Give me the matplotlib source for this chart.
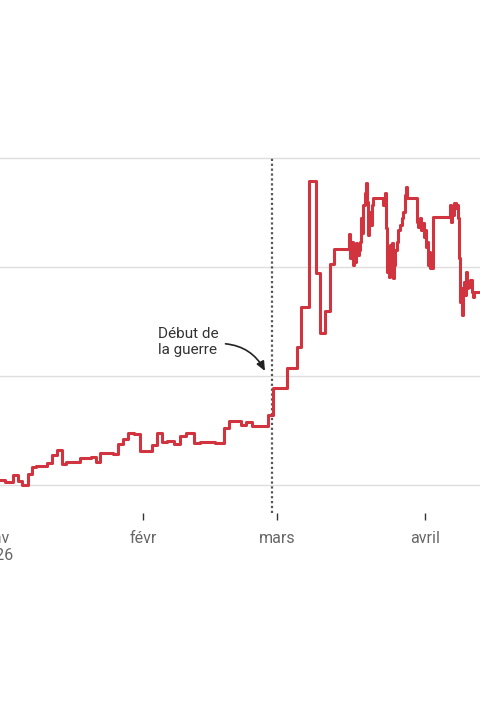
import matplotlib
matplotlib.use("Agg")
import matplotlib.pyplot as plt
import pandas as pd

plt.rcParams["font.family"] = ["Roboto", "DejaVu Sans"]

ORIGINE = pd.Timestamp("2026-01-01")

# cours : jours depuis le 1er janvier 2026, prix
jours_avant = [-1.11, 2.03, 3.71, 4.75, 5.59, 6.85, 7.69, 8.52, 10.83, 11.87,
               12.92, 13.97, 14.81, 17.74, 20.04, 21.09, 21.93, 24.65, 25.70, 26.74,
               27.79, 29.05, 30.30, 32.82, 33.86, 34.91, 35.96, 37.42, 38.68, 39.94,
               41.61, 42.87, 46.01, 47.90, 48.94, 51.46, 52.51, 53.76, 57.11]
prix_avant = [60.92, 60.61, 61.83, 60.79, 60.0, 62.02, 63.30, 63.49, 64.04, 65.50,
              66.42, 63.85, 64.22, 64.95, 65.14, 64.22, 65.87, 65.69, 67.52, 68.44,
              69.54, 69.36, 66.24, 67.34, 69.54, 67.89, 68.07, 67.52, 68.99, 69.54,
              67.71, 67.89, 67.71, 70.46, 71.74, 71.01, 71.56, 70.83, 72.84]

jours_choc = [58.16, 61.09, 63.19, 64.02, 65.69, 67.16, 68.00, 69.05, 70.09, 70.93]
prix_choc = [77.80, 81.47, 85.32, 92.66, 115.78, 98.90, 87.89, 91.93, 100.55, 103.30]

jours_intraday = [74.07, 74.28, 74.70, 74.91, 75.12, 75.33, 75.54, 75.75, 76.10, 76.38,
                  76.59, 76.80, 77.01, 77.36, 77.57, 77.78, 78.05, 78.32, 78.53, 78.83,
                  79.04, 81.26, 81.61, 81.82, 82.03, 82.24, 82.45, 82.66, 82.87, 83.08,
                  83.29, 83.50, 83.71, 84.07, 84.40, 84.76, 85.12, 85.45, 85.80, 86.01,
                  86.22, 88.25, 88.59, 88.94, 89.15, 89.42, 89.72, 89.99, 90.20, 90.41,
                  90.62, 90.83, 91.04, 91.25, 91.39, 91.60, 95.23, 95.43, 95.71, 95.92,
                  96.13, 96.42, 96.63, 96.84, 97.11, 97.32, 97.53, 97.74, 97.95, 98.16,
                  98.37, 98.64, 98.85, 99.06, 99.27, 99.48, 99.77, 99.98, 100.19, 102.0]
prix_intraday = [106.1, 101.7, 104.6, 100.4, 103.7, 100.9, 104.4, 102.2, 103.1, 104.6,
                 109.0, 106.2, 111.4, 113.6, 115.4, 111.9, 105.9, 110.1, 107.7, 111.4,
                 112.7, 111.4, 113.6, 107.2, 99.1, 102.8, 98.2, 104.0, 100.9, 104.4,
                 98.0, 100.4, 103.1, 104.6, 106.8, 107.7, 109.0, 110.1, 113.2, 114.7,
                 112.7, 108.3, 107.3, 109.0, 106.8, 108.1, 105.5, 106.8, 103.7, 104.6,
                 100.4, 102.8, 99.8, 101.7, 99.8, 109.2, 111.4, 108.3, 111.0, 109.5,
                 111.7, 110.8, 111.4, 109.0, 101.7, 93.6, 96.1, 91.2, 94.9, 97.2,
                 94.9, 99.1, 96.1, 97.2, 96.3, 97.6, 95.4, 94.5, 95.4, 95.4]

niveaux_grille = [60, 80, 100, 120]
mois_ticks = ["2026-01-01", "2026-02-01", "2026-03-01", "2026-04-01"]
mois_labels = ["janv\n2026", "févr", "mars", "avril"]
debut_guerre = pd.Timestamp("2026-02-28")
texte_guerre = "Début de\nla guerre"

ROUGE = "#d1343f"


def to_dates(jours):
    return ORIGINE + pd.to_timedelta(jours, unit="D")


jours = jours_avant + jours_choc + jours_intraday
prix = prix_avant + prix_choc + prix_intraday
assert len(jours) == len(prix)
dates = to_dates(jours)

fig = plt.figure(figsize=(4.8, 7.2), dpi=100)
fig.patch.set_facecolor("white")

# l'axe déborde de la figure (graphique recadré)
ax = fig.add_axes([-0.125, 0.2875, 1.25, 0.5736])
ax.set_xlim(to_dates([-11.58])[0], to_dates([114.07])[0])
ax.set_ylim(54.86, 130.64)

ax.set_yticks(niveaux_grille)
ax.grid(axis="y", color="#dedede", linewidth=1)
ax.set_axisbelow(True)
ax.tick_params(axis="y", length=0, labelleft=False)

ax.set_xticks(pd.to_datetime(mois_ticks))
ax.set_xticklabels(mois_labels)
ax.tick_params(axis="x", length=5, width=1, color="#333333",
               labelcolor="#666666", labelsize=11.5, pad=8)

for spine in ax.spines.values():
    spine.set_visible(False)

ax.vlines(debut_guerre, 54.86, 120, color="#555555", linewidth=1.6,
          linestyle=(0, (1, 1.2)), zorder=2)

ax.plot(dates, prix, drawstyle="steps-post", color=ROUGE, linewidth=2.2, zorder=3)

ax.annotate(
    texte_guerre,
    xy=(to_dates([56.48])[0], 80.92),
    xytext=(to_dates([34.07])[0], 86.24),
    ha="left", va="center", fontsize=11, color="#333333",
    arrowprops=dict(arrowstyle="-|>,head_length=0.5,head_width=0.22",
                    color="#222222", linewidth=1.2,
                    connectionstyle="arc3,rad=-0.3",
                    relpos=(1.0, 0.45), shrinkA=3, shrinkB=0),
)

fig.savefig("out.png", dpi=100)
